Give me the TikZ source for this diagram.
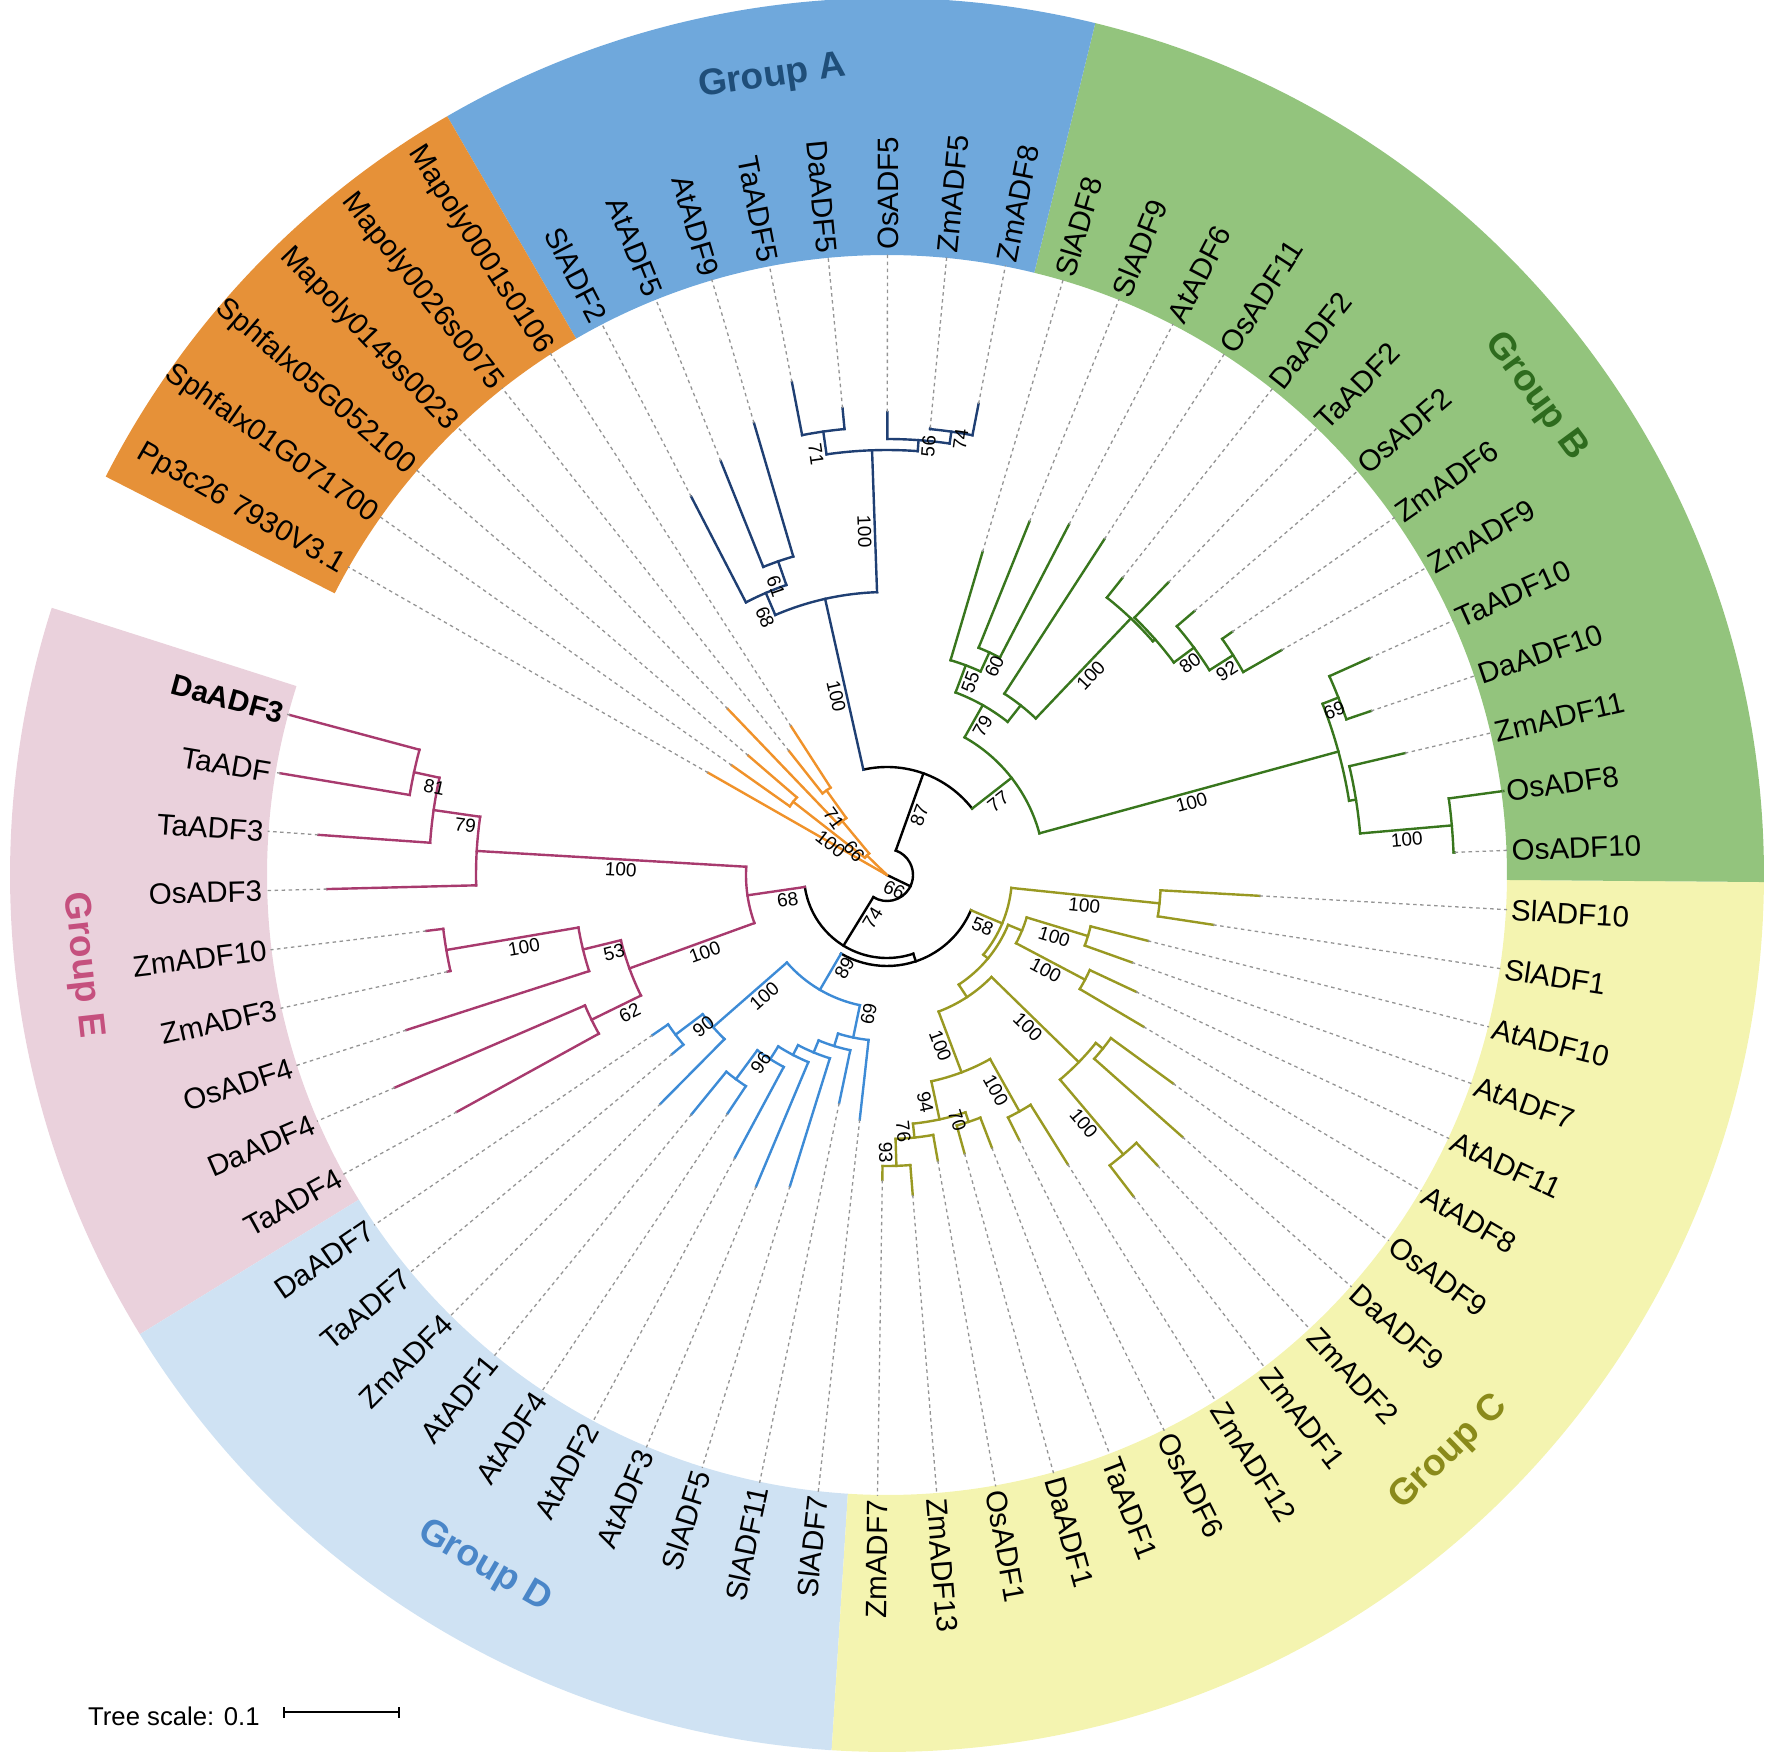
\documentclass[tikz,border=0pt]{standalone}
\usepackage{fontspec}
\setmainfont{Liberation Sans}
\definecolor{bandA}{HTML}{6FA8DC}
\definecolor{bandB}{HTML}{93C47D}
\definecolor{bandC}{HTML}{F4F4B0}
\definecolor{bandD}{HTML}{CFE2F3}
\definecolor{bandE}{HTML}{EAD1DC}
\definecolor{bandO}{HTML}{E69138}
\definecolor{cA}{HTML}{1F3F73}
\definecolor{cB}{HTML}{38761D}
\definecolor{cC}{HTML}{999922}
\definecolor{cD}{HTML}{3D8BD6}
\definecolor{cE}{HTML}{A83A6E}
\definecolor{cO}{HTML}{F0922A}
\definecolor{gA}{HTML}{1F4E79}
\definecolor{gB}{HTML}{2E6B1E}
\definecolor{gC}{HTML}{8A8A1A}
\definecolor{gD}{HTML}{4A86C8}
\definecolor{gE}{HTML}{C5507E}
\newcommand\PhAng[1]{(165+5.48*(#1))}
\newcommand\PhRad[4]{\draw[br,#1] ({\PhAng{#2}}:#3pt) -- ({\PhAng{#2}}:#4pt);}
\newcommand\PhArc[4]{\draw[br,#1] ({\PhAng{#2}}:#4pt) arc[start angle={\PhAng{#2}}, end angle={\PhAng{#3}}, radius=#4pt];}
\newcommand\PhNode[6]{\PhRad{#1}{#2}{#3}{#4}\PhArc{#1}{#5}{#6}{#4}}
\newcommand\PhLeafR[5]{\PhRad{#1}{#2}{#3}{#4}\draw[dsh] ({\PhAng{#2}}:#4pt) -- ({\PhAng{#2}}:621pt);\node[lab,anchor=west,rotate={\PhAng{#2}}] (L#2) at ({\PhAng{#2}}:625pt) {#5};}
\newcommand\PhLeafL[5]{\PhRad{#1}{#2}{#3}{#4}\draw[dsh] ({\PhAng{#2}}:#4pt) -- ({\PhAng{#2}}:621pt);\node[lab,anchor=east,rotate={\PhAng{#2}-180}] (L#2) at ({\PhAng{#2}}:625pt) {#5};}
\newcommand\PhBsR[4]{\node[bsl,rotate={\PhAng{#2}}] (#1) at ({\PhAng{#2}}:#3pt) {#4};}
\newcommand\PhBsL[4]{\node[bsl,rotate={\PhAng{#2}-180}] (#1) at ({\PhAng{#2}}:#3pt) {#4};}
\newcommand\PhBand[3]{\fill[#1] (#2:620pt) arc[start angle=#2, end angle=#3, radius=620pt] -- (#3:877pt) arc[start angle=#3, end angle=#2, radius=877pt] -- cycle;}
\tikzset{
  br/.style={line width=2.4pt, line cap=rect},
  dsh/.style={draw=black!42, line width=1.3pt, dash pattern=on 3.5pt off 3.5pt},
  lab/.style={font=\fontsize{29.5}{32}\selectfont, inner sep=0pt, text height=21.2pt, text depth=0pt},
  bsl/.style={font=\fontsize{19}{21}\selectfont, inner sep=3pt, anchor=north, text height=13.7pt, text depth=0pt},
  grp/.style={font=\fontsize{37}{40}\selectfont\bfseries, inner sep=0pt}
}
\begin{document}
\begin{tikzpicture}
\useasboundingbox (-887pt,-876pt) rectangle (885pt,875pt);
% colour bands
\PhBand{bandE}{162.26}{211.58}
\PhBand{bandD}{211.58}{266.38}
\PhBand{bandC}{266.38}{359.54}
\PhBand{bandB}{359.54}{436.26}
\PhBand{bandA}{436.26}{480.1}
\PhBand{bandO}{480.1}{512.98}
% group labels
\node[grp,text=gA,rotate=8.2] (gpA) at (98.2:806pt) {Group A};
\node[grp,text=gB,rotate=-53.6] (gpB) at (36.4:806pt) {Group B};
\node[grp,text=gC,rotate=44.2] (gpC) at (-45.8:806pt) {Group C};
\node[grp,text=gD,rotate=-30.2] (gpD) at (239.8:800pt) {Group D};
\node[grp,text=gE,rotate=-83.6] (gpE) at (186.4:810pt) {Group E};
% backbone
\PhRad{black}{30.9}{0}{26}
\PhArc{black}{13.39}{48.41}{26}
\PhRad{black}{48.41}{26}{108}
\PhArc{black}{42.51}{54.3125}{108}
\PhRad{black}{13.39}{26}{83}
\PhArc{black}{4.25}{22.53}{83}
\PhRad{black}{22.53}{83}{91}
\PhArc{black}{13.63}{31.43}{91}
% Group A
\PhNode{cA}{54.3125}{108}{283}{52.375}{56.25}
\PhNode{cA}{52.375}{283}{425}{51.25}{53.5}
\PhNode{cA}{51.25}{425}{436}{50.5}{52}
\PhNode{cA}{50.5}{436}{448}{50}{51}
\PhNode{cA}{53.5}{425}{448}{53}{54}
\PhNode{cA}{56.25}{283}{307}{55.5}{57}
\PhNode{cA}{55.5}{307}{332}{55}{56}
\PhLeafR{cA}{50}{448}{480}{ZmADF8}
\PhLeafR{cA}{51}{448}{449}{ZmADF5}
\PhLeafR{cA}{52}{436}{463}{OsADF5}
\PhLeafL{cA}{53}{448}{469}{DaADF5}
\PhLeafL{cA}{54}{448}{502}{TaADF5}
\PhLeafL{cA}{55}{332}{471}{AtADF9}
\PhLeafL{cA}{56}{332}{446}{AtADF5}
\PhLeafL{cA}{57}{307}{426}{SlADF2}
% Group B
\PhNode{cB}{42.51}{108}{158}{38.375}{46.64}
\PhNode{cB}{46.64}{158}{195}{45.03}{48.25}
\PhNode{cB}{48.25}{195}{224}{47.5}{49}
\PhNode{cB}{47.5}{224}{245}{47}{48}
\PhNode{cB}{45.03}{195}{216}{44.0625}{46}
\PhNode{cB}{44.0625}{216}{354}{43.125}{45}
\PhNode{cB}{43.125}{354}{357}{42.25}{44}
\PhNode{cB}{42.25}{357}{382}{41.5}{43}
\PhNode{cB}{41.5}{382}{410}{41}{42}
\PhNode{cB}{38.375}{158}{468}{37.25}{39.5}
\PhNode{cB}{39.5}{468}{485}{39}{40}
\PhNode{cB}{37.25}{468}{475}{36.5}{38}
\PhNode{cB}{36.5}{475}{567}{36}{37}
\PhLeafR{cB}{36}{567}{568}{OsADF10}
\PhLeafR{cB}{37}{567}{622}{OsADF8}
\PhLeafR{cB}{38}{475}{532}{ZmADF11}
\PhLeafR{cB}{39}{485}{511}{DaADF10}
\PhLeafR{cB}{40}{485}{529}{TaADF10}
\PhLeafR{cB}{41}{410}{454}{ZmADF9}
\PhLeafR{cB}{42}{410}{422}{ZmADF6}
\PhLeafR{cB}{43}{382}{405}{OsADF2}
\PhLeafR{cB}{44}{357}{406}{TaADF2}
\PhLeafR{cB}{45}{354}{379}{DaADF2}
\PhLeafR{cB}{46}{216}{400}{OsADF11}
\PhLeafR{cB}{47}{245}{395}{AtADF6}
\PhLeafR{cB}{48}{245}{381}{SlADF9}
\PhLeafR{cB}{49}{224}{337}{SlADF8}
% Group C
\PhNode{cC}{31.43}{91}{125}{28.36}{34.5}
\PhNode{cC}{34.5}{125}{274}{34}{35}
\PhNode{cC}{28.36}{125}{131}{25.22}{31.5}
\PhNode{cC}{31.5}{131}{146}{30.5}{32.5}
\PhNode{cC}{32.5}{146}{210}{32}{33}
\PhNode{cC}{30.5}{146}{224}{30}{31}
\PhNode{cC}{25.22}{131}{146}{22.9375}{27.5}
\PhNode{cC}{27.5}{146}{268}{26.5}{28.5}
\PhNode{cC}{28.5}{268}{277}{28}{29}
\PhNode{cC}{26.5}{268}{366}{26}{27}
\PhNode{cC}{22.9375}{146}{211}{21.375}{24.5}
\PhNode{cC}{24.5}{211}{271}{24}{25}
\PhNode{cC}{21.375}{211}{250}{20.25}{22.5}
\PhNode{cC}{22.5}{250}{260}{22}{23}
\PhNode{cC}{20.25}{250}{264}{19.5}{21}
\PhNode{cC}{19.5}{264}{291}{19}{20}
\PhLeafL{cC}{19}{291}{305}{ZmADF7}
\PhLeafR{cC}{20}{291}{321}{ZmADF13}
\PhLeafR{cC}{21}{264}{290}{OsADF1}
\PhLeafR{cC}{22}{260}{289}{DaADF1}
\PhLeafR{cC}{23}{260}{292}{TaADF1}
\PhLeafR{cC}{24}{271}{296}{OsADF6}
\PhLeafR{cC}{25}{271}{341}{ZmADF12}
\PhLeafR{cC}{26}{366}{405}{ZmADF1}
\PhLeafR{cC}{27}{366}{397}{ZmADF2}
\PhLeafR{cC}{28}{277}{395}{DaADF9}
\PhLeafR{cC}{29}{277}{354}{OsADF9}
\PhLeafR{cC}{30}{224}{298}{AtADF8}
\PhLeafR{cC}{31}{224}{275}{AtADF11}
\PhLeafR{cC}{32}{210}{260}{AtADF7}
\PhLeafR{cC}{33}{210}{269}{AtADF10}
\PhLeafR{cC}{34}{274}{330}{SlADF1}
\PhLeafR{cC}{35}{274}{373}{SlADF10}
% Group D
\PhNode{cD}{13.63}{91}{133}{10.25}{17.016}
\PhNode{cD}{10.25}{133}{231}{9.5}{11}
\PhNode{cD}{9.5}{231}{265}{9}{10}
\PhNode{cD}{17.016}{133}{166}{16.03}{18}
\PhNode{cD}{16.03}{166}{179}{15.0625}{17}
\PhNode{cD}{15.0625}{179}{192}{14.125}{16}
\PhNode{cD}{14.125}{192}{203}{13.25}{15}
\PhNode{cD}{13.25}{203}{218}{12.5}{14}
\PhNode{cD}{12.5}{218}{254}{12}{13}
\PhLeafL{cD}{9}{265}{284}{DaADF7}
\PhLeafL{cD}{10}{265}{280}{TaADF7}
\PhLeafL{cD}{11}{231}{322}{ZmADF4}
\PhLeafL{cD}{12}{254}{309}{AtADF1}
\PhLeafL{cD}{13}{254}{287}{AtADF4}
\PhLeafL{cD}{14}{218}{321}{AtADF2}
\PhLeafL{cD}{15}{203}{338}{AtADF3}
\PhLeafL{cD}{16}{192}{326}{SlADF5}
\PhLeafL{cD}{17}{179}{233}{SlADF11}
\PhLeafL{cD}{18}{166}{246}{SlADF7}
% Group E
\PhNode{cE}{4.25}{83}{141}{2.125}{6.375}
\PhNode{cE}{2.125}{141}{411}{1.25}{3}
\PhNode{cE}{1.25}{411}{458}{0.5}{2}
\PhNode{cE}{0.5}{458}{484}{0}{1}
\PhNode{cE}{6.375}{141}{274}{5.25}{7.5}
\PhNode{cE}{5.25}{274}{313}{4.5}{6}
\PhNode{cE}{4.5}{313}{447}{4}{5}
\PhNode{cE}{7.5}{274}{329}{7}{8}
\PhLeafL{cE}{0}{484}{618}{\textbf{DaADF3}}
\PhLeafL{cE}{1}{484}{615}{TaADF}
\PhLeafL{cE}{2}{458}{570}{TaADF3}
\PhLeafL{cE}{3}{411}{560}{OsADF3}
\PhLeafL{cE}{4}{447}{464}{ZmADF10}
\PhLeafL{cE}{5}{447}{450}{ZmADF3}
\PhLeafL{cE}{6}{313}{505}{OsADF4}
\PhLeafL{cE}{7}{329}{536}{DaADF4}
\PhLeafL{cE}{8}{329}{491}{TaADF4}
% outgroup
\PhRad{cO}{61.69}{0}{3}
\PhArc{cO}{60.375}{63}{3}
\PhNode{cO}{60.375}{3}{28}{59.25}{61.5}
\PhNode{cO}{59.25}{28}{70}{58.5}{60}
\PhNode{cO}{58.5}{70}{104}{58}{59}
\PhNode{cO}{61.5}{28}{119}{61}{62}
\PhLeafL{cO}{58}{104}{177}{Mapoly0001s0106}
\PhLeafL{cO}{59}{104}{158}{Mapoly0026s0075}
\PhLeafL{cO}{60}{70}{230}{Mapoly0149s0023}
\PhLeafL{cO}{61}{119}{183}{Sphfalx05G052100}
\PhLeafL{cO}{62}{119}{190}{Sphfalx01G071700}
\PhLeafL{cO}{63}{3}{206}{Pp3c26 7930V3.1}
% bootstrap values
\PhBsR{bA121}{50.5}{442}{74}
\PhBsR{bA12}{51.25}{430.5}{56}
\PhBsR{bB92}{41.5}{396}{92}
\PhBsR{bB80}{42.25}{369.5}{80}
\PhBsR{bB13}{44.0625}{285}{100}
\PhBsR{bB111}{47.5}{234.5}{60}
\PhBsR{bB11}{48.25}{209.5}{55}
\PhBsR{bB1}{46.64}{176.5}{79}
\PhBsR{bB221}{36.5}{521}{100}
\PhBsR{bB69}{39.5}{476.5}{69}
\PhBsR{bB2}{38.375}{313}{100}
\PhBsR{bB}{42.51}{133}{77}
\PhBsR{bAB}{48.41}{67}{87}
\PhBsR{bC1}{34.5}{199.5}{100}
\PhBsR{bC2a1}{32.5}{178}{100}
\PhBsR{bC2a2}{30.5}{185}{100}
\PhBsR{bC312}{26.5}{317}{100}
\PhBsR{bC31}{27.5}{207}{100}
\PhBsR{bC322}{24.5}{241}{100}
\PhBsR{bC70}{22.5}{255}{70}
\PhBsR{bC93}{19.5}{277.5}{93}
\PhBsR{bC76}{20.25}{257}{76}
\PhBsR{bC94}{21.375}{230.5}{94}
\PhBsR{bC32}{22.9375}{178.5}{100}
\PhBsR{bC}{31.43}{108}{58}
\PhBsR{bN1}{30.9}{13}{66}
\PhBsL{bA11}{53.5}{426.5}{71}
\PhBsL{bA1}{52.375}{344}{100}
\PhBsL{bA21}{55.5}{309.5}{61}
\PhBsL{bA2}{56.25}{285}{68}
\PhBsL{bA}{54.3125}{185.5}{100}
\PhBsL{bD96}{12.5}{226}{96}
\PhBsL{bD2}{17.016}{139.5}{69}
\PhBsL{bD90}{9.5}{238}{90}
\PhBsL{bD1}{10.25}{172}{100}
\PhBsL{bD}{13.63}{102}{89}
\PhBsL{bE81}{0.5}{461}{81}
\PhBsL{bE79}{1.25}{424.5}{79}
\PhBsL{bE1}{2.125}{266}{100}
\PhBsL{bE100}{4.5}{370}{100}
\PhBsL{bE53}{5.25}{283.5}{53}
\PhBsL{bE62}{7.5}{291.5}{62}
\PhBsL{bE2}{6.375}{197.5}{100}
\PhBsL{bE}{4.25}{102}{68}
\PhBsL{bX}{13.39}{44.5}{74}
\PhBsL{bO1}{58.5}{77}{71}
\PhBsL{bO2}{59.25}{39}{66}
\PhBsL{bO3}{61.5}{63.5}{100}
% tree scale
\node[anchor=base west, inner sep=0pt, font=\fontsize{25.7}{28}\selectfont] (ts) at (-799pt,-850pt) {Tree scale: 0.1};
\coordinate (s1) at (-603pt,-837pt);
\coordinate (s2) at (-488pt,-837pt);
\draw[line width=2pt] (s1) -- (s2);
\draw[line width=2pt] ([yshift=-5.5pt]s1) -- ([yshift=5.5pt]s1);
\draw[line width=2pt] ([yshift=-5.5pt]s2) -- ([yshift=5.5pt]s2);
\end{tikzpicture}
\end{document}
